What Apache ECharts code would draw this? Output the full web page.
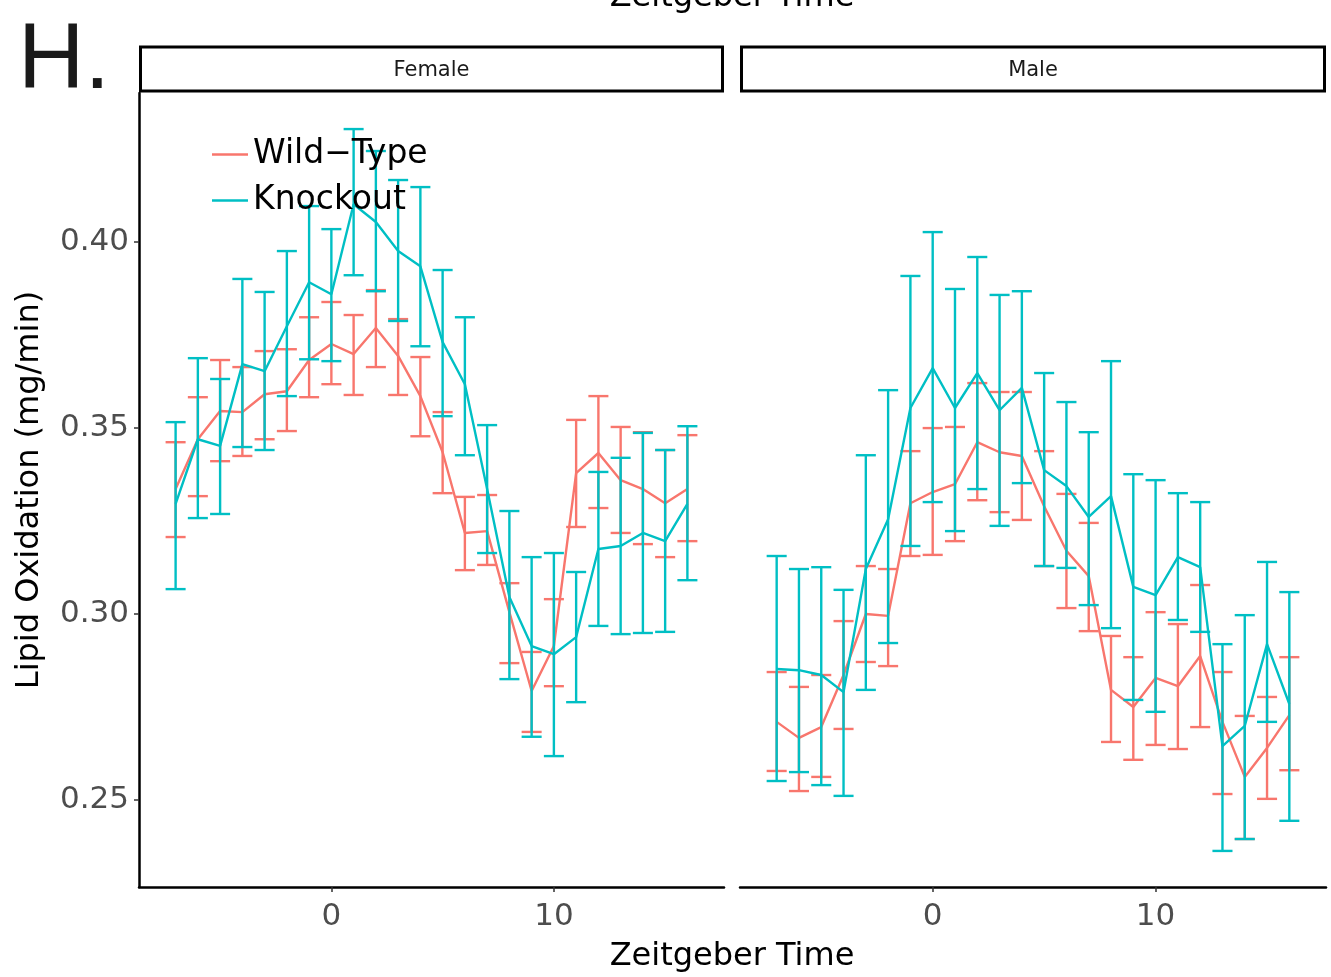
<!DOCTYPE html>
<html>
<head>
<meta charset="utf-8">
<script src="https://cdn.jsdelivr.net/npm/echarts@6/dist/echarts.min.js"></script>
<style>
html,body{margin:0;padding:0;background:#fff;}
#c{width:1331px;height:977px;}
</style>
</head>
<body>
<div id="c"></div>
<script>
// ---------- data ----------
const zt = [-7,-6,-5,-4,-3,-2,-1,0,1,2,3,4,5,6,7,8,9,10,11,12,13,14,15,16];
const panels = ['Female', 'Male'];
const groups = ['Wild\u2212Type', 'Knockout'];
const yTicks = [0.25, 0.30, 0.35, 0.40];
const xTicks = [0, 10];

const femaleWT     = [0.3336,0.3470,0.3546,0.3543,0.3591,0.3599,0.3683,0.3726,0.3699,0.3769,0.3694,0.3586,0.3435,0.3218,0.3223,0.3005,0.2793,0.2914,0.3379,0.3433,0.3360,0.3336,0.3298,0.3336];
const femaleWTLow  = [0.3207,0.3317,0.3411,0.3425,0.3470,0.3492,0.3583,0.3618,0.3589,0.3664,0.3589,0.3478,0.3325,0.3118,0.3132,0.2868,0.2683,0.2806,0.3234,0.3285,0.3218,0.3188,0.3153,0.3196];
const femaleWTHigh = [0.3462,0.3583,0.3683,0.3664,0.3707,0.3712,0.3798,0.3839,0.3804,0.3871,0.3793,0.3691,0.3543,0.3315,0.3320,0.3083,0.2898,0.3040,0.3522,0.3586,0.3503,0.3489,0.3441,0.3481];

const femaleKO     = [0.3296,0.3470,0.3452,0.3672,0.3653,0.3774,0.3892,0.3860,0.4102,0.4054,0.3976,0.3935,0.3731,0.3618,0.3336,0.3046,0.2914,0.2892,0.2938,0.3175,0.3183,0.3218,0.3196,0.3296];
const femaleKOLow  = [0.3067,0.3258,0.3269,0.3449,0.3441,0.3586,0.3685,0.3680,0.3911,0.3868,0.3788,0.3720,0.3532,0.3427,0.3164,0.2825,0.2670,0.2618,0.2763,0.2968,0.2946,0.2949,0.2952,0.3091];
const femaleKOHigh = [0.3516,0.3688,0.3632,0.3901,0.3866,0.3976,0.4097,0.4035,0.4304,0.4245,0.4167,0.4148,0.3925,0.3798,0.3508,0.3277,0.3153,0.3164,0.3113,0.3382,0.3420,0.3487,0.3441,0.3505];

const maleWT       = [0.2710,0.2667,0.2696,0.2836,0.3000,0.2995,0.3298,0.3328,0.3349,0.3462,0.3435,0.3425,0.3290,0.3170,0.3102,0.2796,0.2750,0.2828,0.2806,0.2887,0.2710,0.2562,0.2640,0.2728];
const maleWTLow    = [0.2578,0.2524,0.2562,0.2691,0.2871,0.2860,0.3156,0.3159,0.3196,0.3306,0.3274,0.3253,0.3129,0.3016,0.2954,0.2656,0.2608,0.2648,0.2637,0.2696,0.2516,0.2395,0.2503,0.2580];
const maleWTHigh   = [0.2844,0.2804,0.2836,0.2981,0.3129,0.3121,0.3438,0.3500,0.3503,0.3621,0.3597,0.3597,0.3438,0.3323,0.3245,0.2941,0.2884,0.3005,0.2973,0.3078,0.2844,0.2726,0.2777,0.2884];

const maleKO       = [0.2852,0.2849,0.2836,0.2790,0.3121,0.3255,0.3554,0.3661,0.3554,0.3648,0.3548,0.3608,0.3387,0.3344,0.3261,0.3317,0.3073,0.3051,0.3153,0.3126,0.2645,0.2699,0.2919,0.2758];
const maleKOLow    = [0.2551,0.2575,0.2540,0.2511,0.2796,0.2922,0.3183,0.3301,0.3223,0.3336,0.3237,0.3352,0.3129,0.3124,0.3024,0.2962,0.2769,0.2737,0.2984,0.2952,0.2363,0.2395,0.2710,0.2444];
const maleKOHigh   = [0.3156,0.3121,0.3126,0.3065,0.3427,0.3602,0.3909,0.4027,0.3874,0.3960,0.3858,0.3868,0.3648,0.3570,0.3489,0.3680,0.3376,0.3360,0.3325,0.3301,0.2919,0.2997,0.3140,0.3059];

// ---------- build ----------
const COLORS = ['#F8766D', '#00BFC4'];
const FONT = 'DejaVu Sans, Liberation Sans, sans-serif';
const CAP = 0.9; // error bar width in data units
const LW = 2.4;

const sets = [
  {panel:0, group:0, m:femaleWT, lo:femaleWTLow, hi:femaleWTHigh},
  {panel:0, group:1, m:femaleKO, lo:femaleKOLow, hi:femaleKOHigh},
  {panel:1, group:0, m:maleWT,   lo:maleWTLow,   hi:maleWTHigh},
  {panel:1, group:1, m:maleKO,   lo:maleKOLow,   hi:maleKOHigh}
];

function errRender(params, api) {
  const x = api.value(0), lo = api.value(1), hi = api.value(2);
  const pLo = api.coord([x, lo]);
  const pHi = api.coord([x, hi]);
  const w = api.size([CAP, 0])[0] / 2;
  const style = {stroke: api.visual('color'), lineWidth: LW};
  return {
    type: 'group',
    children: [
      {type:'line', shape:{x1:pLo[0], y1:pLo[1], x2:pHi[0], y2:pHi[1]}, style},
      {type:'line', shape:{x1:pLo[0]-w, y1:pLo[1], x2:pLo[0]+w, y2:pLo[1]}, style},
      {type:'line', shape:{x1:pHi[0]-w, y1:pHi[1], x2:pHi[0]+w, y2:pHi[1]}, style}
    ]
  };
}

const series = [];
sets.forEach(s => {
  series.push({
    type:'line', name: groups[s.group], xAxisIndex:s.panel, yAxisIndex:s.panel,
    data: zt.map((x,i)=>[x, s.m[i]]), symbol:'none', showSymbol:false,
    lineStyle:{width:LW, color:COLORS[s.group]}, itemStyle:{color:COLORS[s.group]},
    z: 2 + s.group, animation:false
  });
});
sets.forEach(s => {
  series.push({
    type:'custom', name: groups[s.group], xAxisIndex:s.panel, yAxisIndex:s.panel,
    data: zt.map((x,i)=>[x, s.lo[i], s.hi[i]]),
    encode:{x:0, y:[1,2]}, renderItem: errRender,
    itemStyle:{color:COLORS[s.group]}, z: 2 + s.group, animation:false
  });
});

const gridL = [{left:139, width:585}, {left:740, width:586}];
const xMin = -8.645, xMax = 17.645, yMin = 0.2266, yMax = 0.4401;

const option = {
  animation:false,
  backgroundColor:'#fff',
  textStyle:{fontFamily:FONT},
  grid: gridL.map(g => ({left:g.left, width:g.width, top:93, height:794, containLabel:false})),
  xAxis: [0,1].map(i => ({
    type:'value', gridIndex:i, min:xMin, max:xMax,
    axisLine:{show:true, onZero:false, lineStyle:{color:'#000', width:2.5}},
    axisTick:{show:true, length:5, lineStyle:{color:'#333', width:1.5}, customValues:xTicks},
    axisLabel:{show:true, color:'#4d4d4d', fontSize:31, margin:14, fontFamily:FONT, customValues:xTicks},
    splitLine:{show:false}
  })),
  yAxis: [0,1].map(i => ({
    type:'value', gridIndex:i, min:yMin, max:yMax,
    axisLine:{show:i===0, onZero:false, lineStyle:{color:'#000', width:2.5}},
    axisTick:{show:i===0, length:5, lineStyle:{color:'#333', width:1.5}, customValues:yTicks},
    axisLabel:{show:i===0, color:'#4d4d4d', fontSize:31, margin:10, fontFamily:FONT,
      customValues:yTicks, formatter: v => v.toFixed(2)},
    splitLine:{show:false},
    name: i===0 ? 'Lipid Oxidation (mg/min)' : '',
    nameLocation:'middle', nameGap:93,
    nameTextStyle:{color:'#000', fontSize:32, fontFamily:FONT}
  })),
  legend:{
    data: groups, orient:'vertical', left:207, top:133,
    icon:'rect', itemWidth:36, itemHeight:2.5, itemGap:13,
    textStyle:{color:'#000', fontSize:33, fontFamily:FONT},
    selectedMode:false
  },
  graphic: [
    {type:'text', left:18, top:17, style:{text:'H.', fill:'#1a1a1a', font:'92px Liberation Sans, Arial, sans-serif'}},
    {type:'text', x:732, y:-18, style:{text:'Zeitgeber Time', fill:'#000', font:'32px DejaVu Sans, sans-serif', textAlign:'center', textVerticalAlign:'top'}},
    {type:'text', x:732, y:957, style:{text:'Zeitgeber Time', fill:'#000', font:'32px DejaVu Sans, sans-serif', textAlign:'center', textVerticalAlign:'middle'}},
    ...panels.map((p,i) => ({
      type:'group', children:[
        {type:'rect', shape:{x:gridL[i].left+1.5, y:47, width:gridL[i].width-3, height:44},
          style:{fill:'#fff', stroke:'#000', lineWidth:3}},
        {type:'text', x:gridL[i].left + gridL[i].width/2, y:71,
          style:{text:p, fill:'#1a1a1a', font:'21px DejaVu Sans, sans-serif', textAlign:'center', textVerticalAlign:'middle'}}
      ]
    }))
  ],
  series
};

const chart = echarts.init(document.getElementById('c'), null, {renderer:'canvas'});
chart.setOption(option);
</script>
</body>
</html>
